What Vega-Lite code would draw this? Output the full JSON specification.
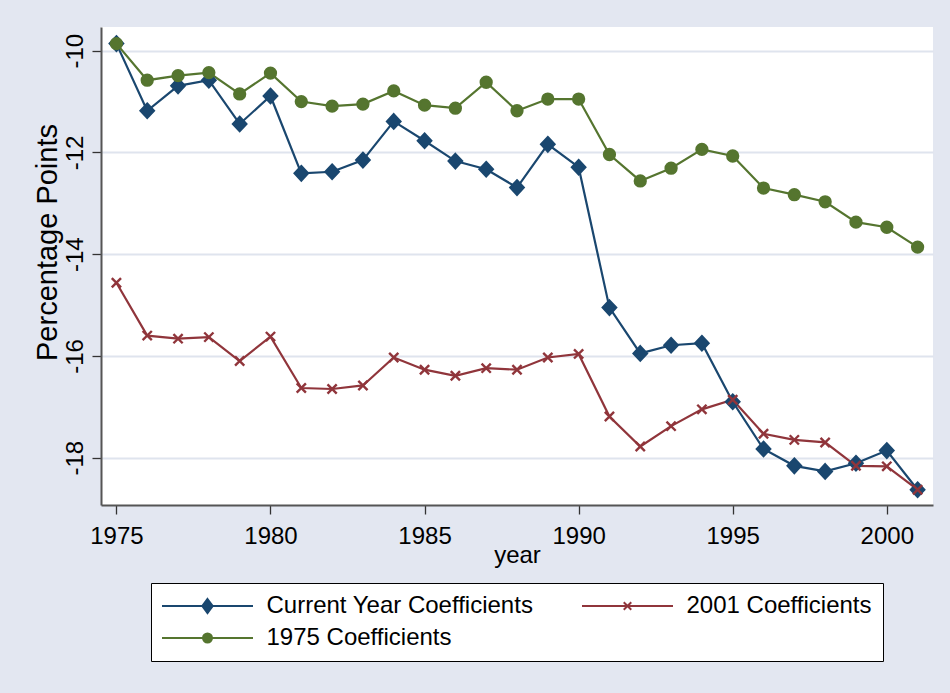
{
  "$schema": "https://vega.github.io/schema/vega-lite/v6.json",
  "width": 832,
  "height": 478,
  "autosize": {"type": "none"},
  "padding": {"left": 101, "top": 27, "right": 17, "bottom": 188},
  "background": "#e3e7f1",
  "config": {
    "view": {"fill": "white", "stroke": null},
    "font": "Liberation Sans"
  },
  "data": {
    "values": [
      {"year": 1975, "series": "Current Year Coefficients", "value": -9.86},
      {"year": 1976, "series": "Current Year Coefficients", "value": -11.18},
      {"year": 1977, "series": "Current Year Coefficients", "value": -10.69},
      {"year": 1978, "series": "Current Year Coefficients", "value": -10.58},
      {"year": 1979, "series": "Current Year Coefficients", "value": -11.44},
      {"year": 1980, "series": "Current Year Coefficients", "value": -10.89},
      {"year": 1981, "series": "Current Year Coefficients", "value": -12.41},
      {"year": 1982, "series": "Current Year Coefficients", "value": -12.38},
      {"year": 1983, "series": "Current Year Coefficients", "value": -12.15},
      {"year": 1984, "series": "Current Year Coefficients", "value": -11.39},
      {"year": 1985, "series": "Current Year Coefficients", "value": -11.77},
      {"year": 1986, "series": "Current Year Coefficients", "value": -12.17},
      {"year": 1987, "series": "Current Year Coefficients", "value": -12.33},
      {"year": 1988, "series": "Current Year Coefficients", "value": -12.69},
      {"year": 1989, "series": "Current Year Coefficients", "value": -11.84},
      {"year": 1990, "series": "Current Year Coefficients", "value": -12.29},
      {"year": 1991, "series": "Current Year Coefficients", "value": -15.05},
      {"year": 1992, "series": "Current Year Coefficients", "value": -15.95},
      {"year": 1993, "series": "Current Year Coefficients", "value": -15.79},
      {"year": 1994, "series": "Current Year Coefficients", "value": -15.75},
      {"year": 1995, "series": "Current Year Coefficients", "value": -16.9},
      {"year": 1996, "series": "Current Year Coefficients", "value": -17.83},
      {"year": 1997, "series": "Current Year Coefficients", "value": -18.16},
      {"year": 1998, "series": "Current Year Coefficients", "value": -18.27},
      {"year": 1999, "series": "Current Year Coefficients", "value": -18.11},
      {"year": 2000, "series": "Current Year Coefficients", "value": -17.86},
      {"year": 2001, "series": "Current Year Coefficients", "value": -18.63},
      {"year": 1975, "series": "2001 Coefficients", "value": -14.56},
      {"year": 1976, "series": "2001 Coefficients", "value": -15.6},
      {"year": 1977, "series": "2001 Coefficients", "value": -15.66},
      {"year": 1978, "series": "2001 Coefficients", "value": -15.63},
      {"year": 1979, "series": "2001 Coefficients", "value": -16.1},
      {"year": 1980, "series": "2001 Coefficients", "value": -15.62},
      {"year": 1981, "series": "2001 Coefficients", "value": -16.63},
      {"year": 1982, "series": "2001 Coefficients", "value": -16.65},
      {"year": 1983, "series": "2001 Coefficients", "value": -16.58},
      {"year": 1984, "series": "2001 Coefficients", "value": -16.03},
      {"year": 1985, "series": "2001 Coefficients", "value": -16.27},
      {"year": 1986, "series": "2001 Coefficients", "value": -16.39},
      {"year": 1987, "series": "2001 Coefficients", "value": -16.24},
      {"year": 1988, "series": "2001 Coefficients", "value": -16.27},
      {"year": 1989, "series": "2001 Coefficients", "value": -16.03},
      {"year": 1990, "series": "2001 Coefficients", "value": -15.96},
      {"year": 1991, "series": "2001 Coefficients", "value": -17.19},
      {"year": 1992, "series": "2001 Coefficients", "value": -17.78},
      {"year": 1993, "series": "2001 Coefficients", "value": -17.38},
      {"year": 1994, "series": "2001 Coefficients", "value": -17.05},
      {"year": 1995, "series": "2001 Coefficients", "value": -16.86},
      {"year": 1996, "series": "2001 Coefficients", "value": -17.53},
      {"year": 1997, "series": "2001 Coefficients", "value": -17.65},
      {"year": 1998, "series": "2001 Coefficients", "value": -17.7},
      {"year": 1999, "series": "2001 Coefficients", "value": -18.16},
      {"year": 2000, "series": "2001 Coefficients", "value": -18.17},
      {"year": 2001, "series": "2001 Coefficients", "value": -18.63},
      {"year": 1975, "series": "1975 Coefficients", "value": -9.86},
      {"year": 1976, "series": "1975 Coefficients", "value": -10.58},
      {"year": 1977, "series": "1975 Coefficients", "value": -10.49},
      {"year": 1978, "series": "1975 Coefficients", "value": -10.43},
      {"year": 1979, "series": "1975 Coefficients", "value": -10.85},
      {"year": 1980, "series": "1975 Coefficients", "value": -10.44},
      {"year": 1981, "series": "1975 Coefficients", "value": -11.0},
      {"year": 1982, "series": "1975 Coefficients", "value": -11.09},
      {"year": 1983, "series": "1975 Coefficients", "value": -11.05},
      {"year": 1984, "series": "1975 Coefficients", "value": -10.79},
      {"year": 1985, "series": "1975 Coefficients", "value": -11.07},
      {"year": 1986, "series": "1975 Coefficients", "value": -11.13},
      {"year": 1987, "series": "1975 Coefficients", "value": -10.62},
      {"year": 1988, "series": "1975 Coefficients", "value": -11.18},
      {"year": 1989, "series": "1975 Coefficients", "value": -10.95},
      {"year": 1990, "series": "1975 Coefficients", "value": -10.95},
      {"year": 1991, "series": "1975 Coefficients", "value": -12.04},
      {"year": 1992, "series": "1975 Coefficients", "value": -12.56},
      {"year": 1993, "series": "1975 Coefficients", "value": -12.31},
      {"year": 1994, "series": "1975 Coefficients", "value": -11.94},
      {"year": 1995, "series": "1975 Coefficients", "value": -12.07},
      {"year": 1996, "series": "1975 Coefficients", "value": -12.7},
      {"year": 1997, "series": "1975 Coefficients", "value": -12.83},
      {"year": 1998, "series": "1975 Coefficients", "value": -12.97},
      {"year": 1999, "series": "1975 Coefficients", "value": -13.37},
      {"year": 2000, "series": "1975 Coefficients", "value": -13.47},
      {"year": 2001, "series": "1975 Coefficients", "value": -13.86}
    ]
  },
  "encoding": {
    "x": {
      "field": "year",
      "type": "quantitative",
      "scale": {"domain": [1974.5, 2001.5], "nice": false, "zero": false},
      "axis": {
        "values": [1975, 1980, 1985, 1990, 1995, 2000],
        "format": "d",
        "grid": false,
        "labelFontSize": 24,
        "labelColor": "black",
        "labelBaseline": "alphabetic",
        "labelPadding": 29,
        "labelFlush": false,
        "labelOverlap": false,
        "tickSize": 9,
        "tickColor": "#333333",
        "tickWidth": 1.3,
        "domainColor": "#555555",
        "domainWidth": 2,
        "title": "year",
        "titleFontSize": 24,
        "titleFontWeight": "normal",
        "titleColor": "black",
        "titleBaseline": "alphabetic",
        "titleY": 57
      }
    },
    "y": {
      "field": "value",
      "type": "quantitative",
      "scale": {"domain": [-18.93, -9.534], "nice": false, "zero": false},
      "axis": {
        "values": [-18, -16, -14, -12, -10],
        "labelExpr": "'' + datum.value",
        "labelAngle": -90,
        "labelAlign": "center",
        "labelBaseline": "alphabetic",
        "labelFontSize": 24,
        "labelColor": "black",
        "labelPadding": 10,
        "labelFlush": false,
        "labelOverlap": false,
        "tickSize": 9,
        "tickColor": "#333333",
        "tickWidth": 1.3,
        "domainColor": "#555555",
        "domainWidth": 2,
        "grid": true,
        "gridColor": "#dfe4ee",
        "gridWidth": 2,
        "title": "Percentage Points",
        "titleFontSize": 29,
        "titleFontWeight": "normal",
        "titleColor": "black",
        "titleAngle": -90,
        "titleAlign": "center",
        "titleBaseline": "alphabetic",
        "titleX": -45,
        "titleY": 215
      }
    }
  },
  "layer": [
    {
      "mark": {"type": "line", "strokeWidth": 2.2},
      "encoding": {
        "color": {
          "field": "series",
          "type": "nominal",
          "scale": {
            "domain": ["Current Year Coefficients", "2001 Coefficients", "1975 Coefficients"],
            "range": ["#1a476f", "#90353b", "#55752f"]
          },
          "legend": {
            "title": null,
            "orient": "none",
            "legendX": 50,
            "legendY": 556,
            "direction": "horizontal",
            "columns": 2,
            "columnPadding": 44,
            "rowPadding": 8,
            "padding": 11,
            "fillColor": "white",
            "strokeColor": "black",
            "cornerRadius": 0,
            "labelFontSize": 24,
            "labelColor": "black",
            "labelLimit": 500,
            "labelOffset": 47,
            "symbolOffset": 33.5,
            "symbolSize": 100,
            "symbolStrokeWidth": 2,
            "symbolOpacity": 1
          }
        }
      }
    },
    {
      "transform": [{"filter": "datum.series == 'Current Year Coefficients'"}],
      "mark": {"type": "point", "filled": true, "opacity": 1, "color": "#1a476f", "stroke": "#1a476f", "strokeWidth": 2.2, "shape": "M0,-1.07L1,0L0,1.07L-1,0Z", "size": 182}
    },
    {
      "transform": [{"filter": "datum.series == '2001 Coefficients'"}],
      "mark": {"type": "point", "filled": true, "opacity": 1, "color": "#90353b", "stroke": "#90353b", "strokeWidth": 2.4, "shape": "M-1,-1L1,1M-1,1L1,-1", "size": 85}
    },
    {
      "transform": [{"filter": "datum.series == '1975 Coefficients'"}],
      "mark": {"type": "point", "filled": true, "opacity": 1, "color": "#55752f", "stroke": "#55752f", "strokeWidth": 2.2, "shape": "circle", "size": 123}
    },
    {
      "mark": {"type": "point", "filled": true, "opacity": 0, "strokeWidth": 2},
      "encoding": {
        "color": {
          "field": "series",
          "type": "nominal",
          "scale": {
            "domain": ["Current Year Coefficients", "2001 Coefficients", "1975 Coefficients"],
            "range": ["#1a476f", "#90353b", "#55752f"]
          },
          "legend": {
            "title": null,
            "orient": "none",
            "legendX": 50,
            "legendY": 556,
            "direction": "horizontal",
            "columns": 2,
            "columnPadding": 44,
            "rowPadding": 8,
            "padding": 11,
            "fillColor": "white",
            "strokeColor": "black",
            "cornerRadius": 0,
            "labelFontSize": 24,
            "labelColor": "black",
            "labelLimit": 500,
            "labelOffset": 47,
            "symbolOffset": 33.5,
            "symbolSize": 100,
            "symbolStrokeWidth": 2,
            "symbolOpacity": 1
          }
        },
        "shape": {
          "field": "series",
          "type": "nominal",
          "scale": {
            "domain": ["Current Year Coefficients", "2001 Coefficients", "1975 Coefficients"],
            "range": [
              "M-9.1,0H9.1M0,-1.4L1.04,0L0,1.4L-1.04,0Z",
              "M-9.1,0H9.1M-0.75,-0.75L0.75,0.75M-0.75,0.75L0.75,-0.75",
              "M-9.1,0H9.1M-0.9,0A0.9,0.9,0,1,1,0.9,0A0.9,0.9,0,1,1,-0.9,0Z"
            ]
          },
          "legend": null
        },
        "stroke": {
          "field": "series",
          "type": "nominal",
          "scale": {
            "domain": ["Current Year Coefficients", "2001 Coefficients", "1975 Coefficients"],
            "range": ["#1a476f", "#90353b", "#55752f"]
          },
          "legend": null
        }
      }
    }
  ]
}
